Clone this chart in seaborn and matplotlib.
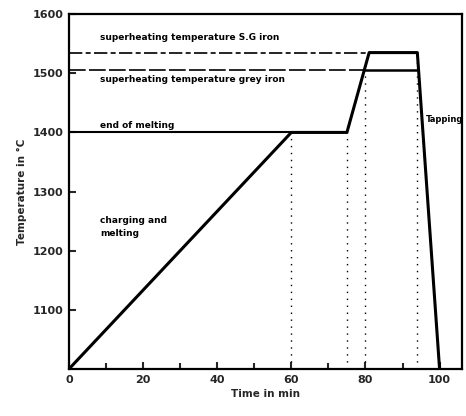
import matplotlib
matplotlib.use("Agg")
import matplotlib.pyplot as plt
import seaborn as sns
import pandas as pd

# Data
time_min = [0, 60, 75, 81, 94, 100]
temperature_c = [1000, 1400, 1400, 1535, 1535, 1000]
sg_iron_temp = 1535
grey_iron_temp = 1505
end_melting_temp = 1400
dotted_times = [60, 75, 80, 94]
x_ticks = [0, 20, 40, 60, 80, 100]
y_ticks = [1100, 1200, 1300, 1400, 1500, 1600]

sns.set_theme(style="ticks")
plt.rcParams['font.family'] = ['DejaVu Sans']

fig = plt.figure(figsize=(4.66, 4.16), dpi=100)
ax = fig.add_axes([0.148, 0.113, 0.843, 0.853])

df = pd.DataFrame({"Time": time_min, "Temp": temperature_c})
sns.lineplot(data=df, x="Time", y="Temp", ax=ax, color="black", linewidth=2.2,
             sort=False, estimator=None)

# reference lines
ax.plot([0, 81], [sg_iron_temp, sg_iron_temp], color="black", lw=1.2, ls=(0, (8, 2, 3, 2)))
ax.plot([0, 80], [grey_iron_temp, grey_iron_temp], color="black", lw=1.2, ls=(0, (10, 2)))
ax.plot([80, 94], [grey_iron_temp, grey_iron_temp], color="black", lw=1.8)
ax.plot([0, 60], [end_melting_temp, end_melting_temp], color="black", lw=1.5)

ymin = 1000
for t in dotted_times:
    yt = None
    for i in range(len(time_min) - 1):
        if time_min[i] <= t <= time_min[i + 1]:
            x0, x1 = time_min[i], time_min[i + 1]
            y0, y1 = temperature_c[i], temperature_c[i + 1]
            yt = y0 + (y1 - y0) * (t - x0) / (x1 - x0)
            break
    if t == 80:
        yt = grey_iron_temp
    ax.plot([t, t], [ymin, yt], color="black", lw=1.0, ls=(0, (1, 4)))

kw = dict(fontsize=6.5, fontweight="bold", color="black")
ax.text(8.5, 1557, "superheating temperature S.G iron", **kw)
ax.text(8.5, 1486, "superheating temperature grey iron", **kw)
ax.text(8.5, 1408, "end of melting", **kw)
ax.text(8.5, 1225, "charging and\nmelting", linespacing=1.6, **kw)
ax.text(96.3, 1418, "Tapping", fontsize=6, fontweight="bold", color="black")

ax.set_xlim(0, 106)
ax.set_ylim(1000, 1600)
ax.set_xticks(x_ticks)
ax.set_xticks([10, 30, 50, 70, 90], minor=True)
ax.set_yticks(y_ticks)
ax.set_yticklabels([str(v) for v in y_ticks])
ax.tick_params(axis="both", which="both", direction="in", width=1.5, labelsize=8, pad=4)
ax.tick_params(which="major", length=5)
ax.tick_params(which="minor", length=4)
for lbl in ax.get_xticklabels() + ax.get_yticklabels():
    lbl.set_fontweight("bold")
for s in ax.spines.values():
    s.set_linewidth(1.6)
    s.set_color("black")
ax.set_xlabel("Time in min", fontsize=7.5, fontweight="bold", labelpad=3)
ax.set_ylabel("Temperature in °C", fontsize=7.5, fontweight="bold", labelpad=4)

fig.savefig("out.png", dpi=100)
